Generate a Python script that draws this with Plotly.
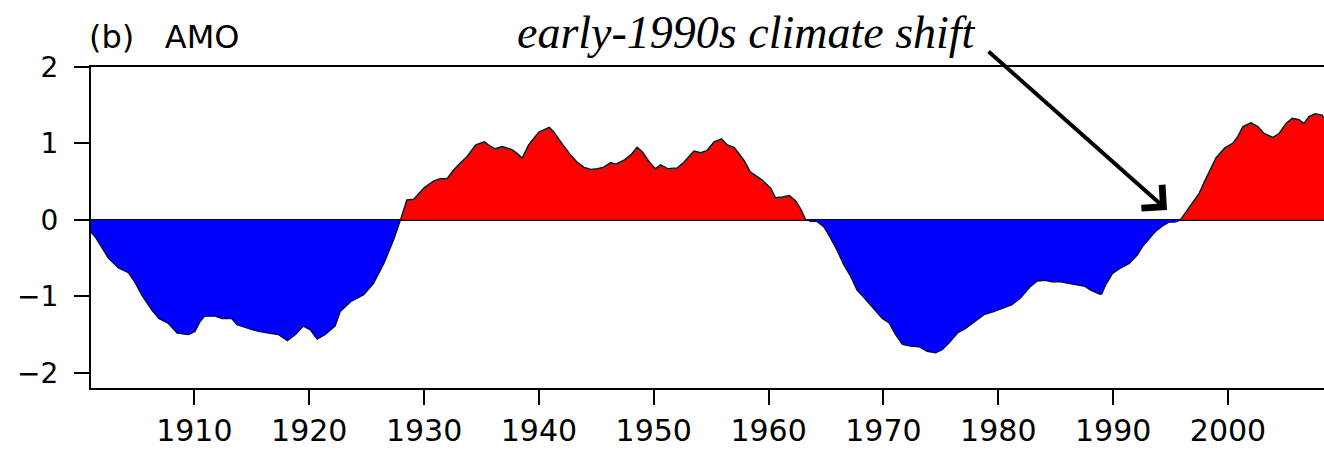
import plotly.graph_objects as go

years = [1901.0, 1901.35, 1901.9, 1902.5, 1903.4, 1904.25, 1904.8, 1905.4, 1906.3, 1906.9,
         1907.7, 1908.5, 1909.5, 1910.05, 1910.5, 1910.9, 1911.8, 1912.4, 1913.25, 1913.7,
         1914.7, 1915.6, 1916.45, 1917.3, 1918.1, 1918.8, 1919.5, 1920.1, 1920.7, 1921.4,
         1921.7, 1922.25, 1922.7, 1923.6, 1924.75, 1925.6, 1926.5, 1927.35, 1927.95, 1928.5,
         1929.1, 1930.0, 1930.85, 1931.4, 1932.0, 1932.45, 1933.0, 1933.75, 1934.5, 1935.25,
         1935.8, 1936.2, 1936.8, 1937.65, 1938.1, 1938.55, 1939.1, 1940.0, 1940.9, 1941.3,
         1942.0, 1942.75, 1943.3, 1943.9, 1944.5, 1945.1, 1945.65, 1946.25, 1946.7, 1947.4,
         1948.0, 1948.55, 1949.0, 1949.6, 1950.15, 1950.6, 1951.2, 1952.05, 1952.6, 1953.5,
         1954.1, 1954.65, 1955.25, 1955.9, 1956.4, 1957.0, 1957.85, 1958.4, 1959.45, 1960.2,
         1960.6, 1961.2, 1961.8, 1962.35, 1962.8, 1963.2, 1963.65, 1964.2, 1964.8, 1965.4,
         1966.0, 1966.55, 1967.15, 1967.7, 1968.15, 1968.6, 1969.2, 1969.9, 1970.5, 1971.05,
         1971.65, 1972.35, 1973.1, 1973.8, 1974.55, 1975.1, 1975.7, 1976.45, 1977.15, 1977.9,
         1978.75, 1979.6, 1980.5, 1981.2, 1981.95, 1982.8, 1983.4, 1984.1, 1984.65, 1985.45,
         1986.1, 1986.9, 1987.55, 1988.05, 1988.4, 1988.8, 1989.0, 1989.35, 1989.95, 1990.65,
         1991.4, 1992.1, 1992.55, 1993.1, 1993.7, 1994.3, 1994.85, 1995.3, 1995.6, 1995.9,
         1996.35, 1996.9, 1997.5, 1997.95, 1998.4, 1998.95, 1999.7, 2000.4, 2000.85, 2001.3,
         2002.0, 2002.6, 2003.15, 2003.9, 2004.45, 2005.05, 2005.6, 2006.2, 2006.6, 2007.05,
         2007.6, 2008.2, 2008.5]

amo = [-0.16, -0.22, -0.35, -0.50, -0.63, -0.69, -0.81, -0.98, -1.18, -1.29,
       -1.35, -1.48, -1.50, -1.46, -1.33, -1.26, -1.26, -1.29, -1.29, -1.37,
       -1.42, -1.46, -1.48, -1.50, -1.58, -1.50, -1.39, -1.44, -1.56, -1.50,
       -1.46, -1.39, -1.20, -1.07, -0.98, -0.83, -0.57, -0.26, 0.0, 0.26,
       0.27, 0.42, 0.51, 0.54, 0.54, 0.63, 0.72, 0.83, 0.98, 1.02,
       0.96, 0.93, 0.96, 0.92, 0.87, 0.81, 0.98, 1.15, 1.21, 1.15,
       1.00, 0.85, 0.76, 0.69, 0.66, 0.67, 0.69, 0.75, 0.73, 0.78,
       0.85, 0.95, 0.89, 0.76, 0.67, 0.72, 0.67, 0.68, 0.75, 0.90,
       0.88, 0.91, 1.02, 1.06, 0.98, 0.95, 0.78, 0.63, 0.52, 0.41,
       0.29, 0.30, 0.32, 0.25, 0.14, 0.01, -0.02, -0.02, -0.09, -0.24,
       -0.41, -0.59, -0.74, -0.92, -0.99, -1.07, -1.18, -1.29, -1.35, -1.50,
       -1.63, -1.65, -1.66, -1.72, -1.74, -1.70, -1.61, -1.48, -1.42, -1.33,
       -1.24, -1.20, -1.15, -1.11, -1.02, -0.87, -0.80, -0.79, -0.81, -0.81,
       -0.83, -0.85, -0.87, -0.92, -0.94, -0.97, -0.97, -0.85, -0.70, -0.63,
       -0.57, -0.46, -0.35, -0.26, -0.15, -0.08, -0.03, -0.03, -0.02, 0.01,
       0.11, 0.22, 0.35, 0.50, 0.65, 0.81, 0.94, 1.00, 1.09, 1.22,
       1.27, 1.22, 1.13, 1.08, 1.13, 1.26, 1.33, 1.31, 1.26, 1.35,
       1.39, 1.37, 1.30]

y_ticks = [-2, -1, 0, 1, 2]
x_ticks = [1910, 1920, 1930, 1940, 1950, 1960, 1970, 1980, 1990, 2000]
panel_label = "(b)\u00a0\u00a0\u00a0AMO"
note_text = "early-1990s climate shift"

# insert zero crossings so the red/blue fills meet at zero
xs, ys = [years[0]], [amo[0]]
for i in range(1, len(years)):
    x0, y0, x1, y1 = years[i - 1], amo[i - 1], years[i], amo[i]
    if y0 * y1 < 0:
        xc = x0 + (x1 - x0) * (-y0) / (y1 - y0)
        xs.append(xc)
        ys.append(0.0)
    xs.append(x1)
    ys.append(y1)
pos = [max(v, 0.0) for v in ys]
neg = [min(v, 0.0) for v in ys]

fig = go.Figure()
fig.add_trace(go.Scatter(x=xs, y=pos, mode="lines", line=dict(width=0, color="red"),
                         fill="tozeroy", fillcolor="#ff0000", hoverinfo="skip"))
fig.add_trace(go.Scatter(x=xs, y=neg, mode="lines", line=dict(width=0, color="blue"),
                         fill="tozeroy", fillcolor="#0000ff", hoverinfo="skip"))
fig.add_trace(go.Scatter(x=years, y=amo, mode="lines",
                         line=dict(width=1.4, color="#111111")))

fig.update_layout(
    width=1324, height=450,
    margin=dict(l=91, r=0, t=67, b=62),
    paper_bgcolor="white", plot_bgcolor="white",
    showlegend=False,
    font=dict(family="DejaVu Sans", color="black"),
    xaxis=dict(range=[1901.0, 2008.36], tickvals=x_ticks, ticks="outside", ticklen=15,
               tickwidth=2, tickcolor="black", showline=True, linecolor="black", linewidth=2,
               mirror=True, showgrid=False, zeroline=False, automargin=False,
               tickfont=dict(family="DejaVu Sans", size=30), layer="above traces"),
    yaxis=dict(range=[-2.2, 2.0], tickvals=y_ticks, ticks="outside", ticklen=15,
               tickwidth=2, tickcolor="black", showline=True, linecolor="black", linewidth=2,
               mirror=False, showgrid=False, zeroline=True, zerolinecolor="black",
               zerolinewidth=1.5, tickfont=dict(family="DejaVu Sans", size=28),
               ticklabelstandoff=10, automargin=False, layer="above traces"),
)

fig.add_annotation(text=panel_label, xref="paper", yref="paper", x=-0.003, y=1.092,
                   xanchor="left", yanchor="middle", showarrow=False,
                   font=dict(family="DejaVu Sans", size=32, color="black"))

fig.add_annotation(text="<i>" + note_text + "</i>", xref="paper", yref="paper",
                   x=0.5313, y=1.108, xanchor="center", yanchor="middle", showarrow=False,
                   font=dict(family="Liberation Serif", size=46, color="black"))

fig.add_annotation(x=1994.69, y=0.13, ax=1979.02, ay=2.22, xref="x", yref="y",
                   axref="x", ayref="y", text="", showarrow=True, arrowhead=4,
                   arrowsize=1.5, arrowwidth=4, arrowcolor="black")

fig.write_html("out.html", config={"displayModeBar": False},
               post_script="document.body.style.margin='0';document.body.style.overflow='hidden';")
